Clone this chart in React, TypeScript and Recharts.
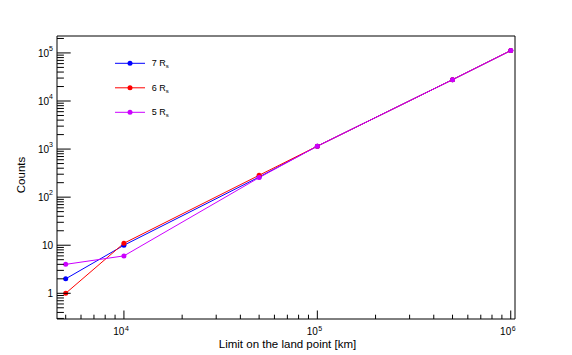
import React from 'react';
import { LineChart, Line, XAxis, YAxis, Legend } from 'recharts';

// limit on the land point [km]
const limits = [5000, 10000, 50000, 100000, 500000, 1000000];
// counts per planet radius cut
const counts7 = [2, 10, 262, 1150, 27800, 112000];
const counts6 = [1, 11, 285, 1150, 27800, 112000];
const counts5 = [4, 6, 255, 1150, 27800, 112000];

const seriesNames = ['7', '6', '5'];
const seriesColors = ['#0000ff', '#ff0000', '#cc00ff'];

const xMajor = [1e4, 1e5, 1e6];
const yMajor = [1, 10, 1e2, 1e3, 1e4, 1e5];

const X_DOMAIN: [number, number] = [4508, 1052000];
const Y_DOMAIN: [number, number] = [0.292, 225000];

const FONT = '"Liberation Sans", Arial, Helvetica, sans-serif';

const data = limits.map((x, i) => ({
  x,
  s7: counts7[i],
  s6: counts6[i],
  s5: counts5[i],
}));

// majors plus 2..9 minors inside the domain
const logTicks = (dom: [number, number]) => {
  const out: number[] = [];
  const lo = Math.floor(Math.log10(dom[0]));
  const hi = Math.ceil(Math.log10(dom[1]));
  for (let e = lo; e <= hi; e++) {
    for (let m = 1; m <= 9; m++) {
      const v = m * Math.pow(10, e);
      if (v >= dom[0] && v <= dom[1]) out.push(v);
    }
  }
  return out;
};

const isMajor = (v: number, majors: number[]) =>
  majors.some((m) => Math.abs(m - v) < 1e-6 * m);

const XTick = (props: any) => {
  const { x, y, payload } = props;
  const v = payload.value;
  const major = isMajor(v, xMajor);
  const exp = Math.round(Math.log10(v));
  return (
    <g>
      <line x1={x} x2={x} y1={y} y2={y - (major ? 8.5 : 4.3)} stroke="#000" />
      {major && (
        <g fontFamily={FONT} fill="#000">
          <text x={x + 0.5} y={y + 16} fontSize={10} textAnchor="end">
            10
          </text>
          <text x={x + 1} y={y + 12} fontSize={7} textAnchor="start">
            {exp}
          </text>
        </g>
      )}
    </g>
  );
};

const YTick = (props: any) => {
  const { x, y, payload } = props;
  const v = payload.value;
  const major = isMajor(v, yMajor);
  const exp = Math.round(Math.log10(v));
  return (
    <g>
      <line x1={x} x2={x + (major ? 13.7 : 6.9)} y1={y} y2={y} stroke="#000" />
      {major && (
        <text x={x - 4} y={y + 3.6} fontSize={10} textAnchor="end" fontFamily={FONT} fill="#000">
          {exp <= 1 ? (
            String(v)
          ) : (
            <>
              <tspan>10</tspan>
              <tspan dy={-6} fontSize={7}>
                {exp}
              </tspan>
            </>
          )}
        </text>
      )}
    </g>
  );
};

const LegendBox = () => (
  <svg width={70} height={70} style={{ overflow: 'visible' }}>
    {seriesNames.map((n, i) => {
      const cy = 11.3 + i * 24.5;
      return (
        <g key={n}>
          <line x1={5} x2={35} y1={cy} y2={cy} stroke={seriesColors[i]} strokeWidth={1} />
          <circle cx={20} cy={cy} r={2.5} fill={seriesColors[i]} />
          <text x={41.7} y={cy + 3} fontSize={9} fontFamily={FONT} fill="#000">
            {n} R
            <tspan dy={2} fontSize={6}>
              s
            </tspan>
          </text>
        </g>
      );
    })}
  </svg>
);

export default function App() {
  return (
    <div style={{ position: 'absolute', left: 0, top: 0, width: 572, height: 355, background: '#fff' }}>
      <LineChart
        width={572}
        height={355}
        data={data}
        margin={{ top: 35, right: 56, bottom: 6, left: 7 }}
      >
        <XAxis
          xAxisId="b"
          dataKey="x"
          type="number"
          scale="log"
          domain={X_DOMAIN}
          allowDataOverflow
          ticks={logTicks(X_DOMAIN)}
          interval={0}
          tickSize={0}
          tickMargin={0}
          tickLine={false}
          tick={<XTick />}
          height={30}
          axisLine={{ stroke: '#000' }}
        />
        <XAxis
          xAxisId="t"
          orientation="top"
          dataKey="x"
          type="number"
          scale="log"
          domain={X_DOMAIN}
          allowDataOverflow
          tick={false}
          tickLine={false}
          height={1}
          axisLine={{ stroke: '#000' }}
        />
        <YAxis
          yAxisId="l"
          type="number"
          scale="log"
          domain={Y_DOMAIN}
          allowDataOverflow
          ticks={logTicks(Y_DOMAIN)}
          interval={0}
          tickSize={0}
          tickMargin={0}
          tickLine={false}
          tick={<YTick />}
          width={50}
          axisLine={{ stroke: '#000' }}
        />
        <YAxis
          yAxisId="r"
          orientation="right"
          type="number"
          scale="log"
          domain={Y_DOMAIN}
          allowDataOverflow
          tick={false}
          tickLine={false}
          width={1}
          axisLine={{ stroke: '#000' }}
        />
        <Legend
          layout="vertical"
          align="center"
          verticalAlign="middle"
          wrapperStyle={{ left: 110, top: 52, width: 70, height: 70 }}
          content={() => <LegendBox />}
        />
        {['s7', 's6', 's5'].map((k, i) => (
          <Line
            key={k}
            xAxisId="b"
            yAxisId="l"
            dataKey={k}
            name={`${seriesNames[i]} Rs`}
            stroke={seriesColors[i]}
            strokeWidth={1}
            dot={{ r: 2.5, fill: seriesColors[i], stroke: 'none' }}
            isAnimationActive={false}
          />
        ))}
        <text
          x={25}
          y={175}
          transform="rotate(-90, 25, 175)"
          textAnchor="middle"
          fontSize={11.5}
          fontFamily={FONT}
          fill="#000"
        >
          Counts
        </text>
        <text x={287.5} y={347.5} textAnchor="middle" fontSize={11.5} fontFamily={FONT} fill="#000">
          Limit on the land point [km]
        </text>
      </LineChart>
    </div>
  );
}
